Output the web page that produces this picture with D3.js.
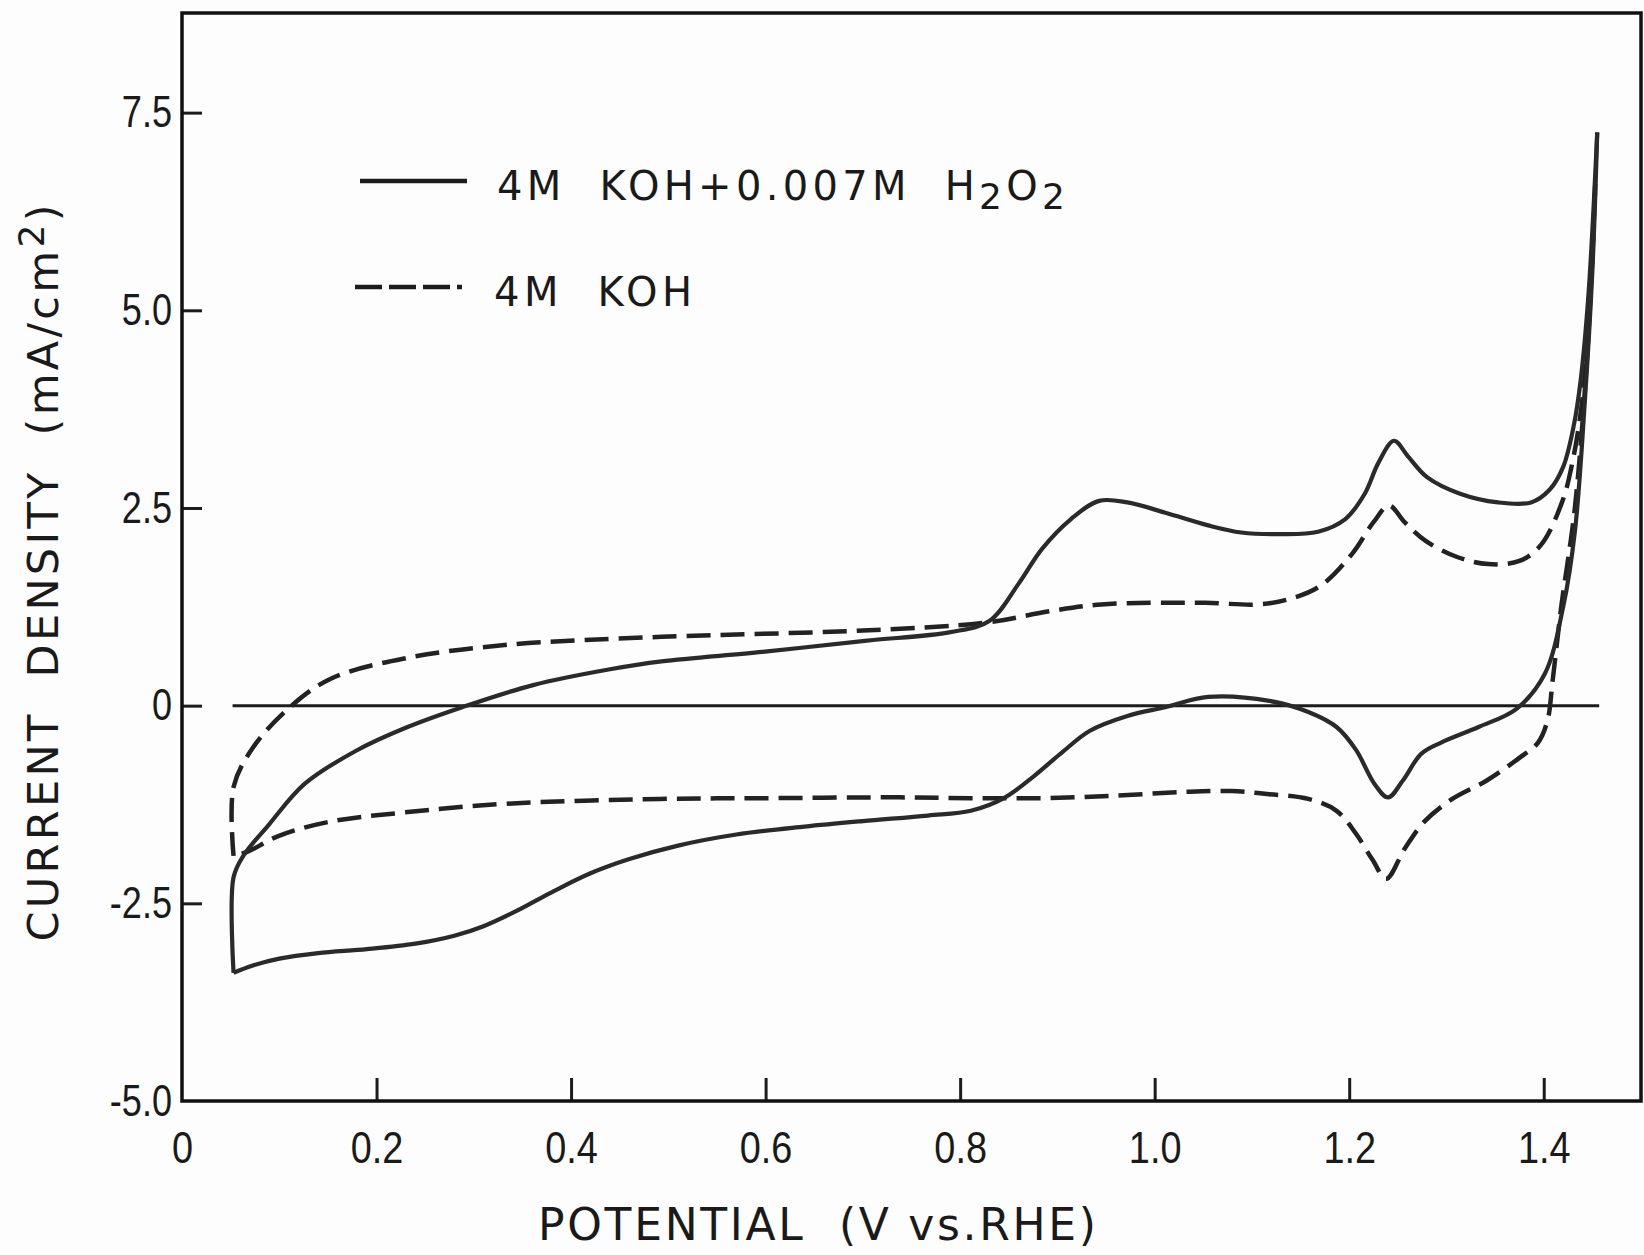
<!DOCTYPE html>
<html>
<head>
<meta charset="utf-8">
<script src="https://cdn.jsdelivr.net/npm/d3@7"></script>
<style>
  body { margin: 0; background: #fdfdfd; }
  svg { display: block; }
  text { fill: #1a1a1a; }
</style>
</head>
<body>
<div id="chart"></div>
<script>
// solid line: 4M KOH + 0.007M H2O2, [potential V, current mA/cm2]
var h2o2Anodic = [
  [0.053, -3.38], [0.053, -2.17], [0.063, -1.90], [0.089, -1.51], [0.126, -0.99],
  [0.179, -0.57], [0.230, -0.28], [0.288, -0.02], [0.361, 0.26], [0.440, 0.46],
  [0.493, 0.56], [0.597, 0.68], [0.702, 0.82], [0.790, 0.93], [0.830, 1.07],
  [0.860, 1.54], [0.884, 1.98], [0.914, 2.36], [0.943, 2.59], [0.972, 2.57],
  [1.011, 2.44], [1.055, 2.28], [1.089, 2.19], [1.129, 2.17], [1.168, 2.20],
  [1.196, 2.36], [1.216, 2.68], [1.230, 3.07], [1.246, 3.35], [1.260, 3.16],
  [1.280, 2.89], [1.314, 2.68], [1.353, 2.57], [1.387, 2.57], [1.406, 2.73],
  [1.420, 3.02], [1.431, 3.55], [1.438, 4.12], [1.446, 5.20], [1.455, 7.25]
];
var h2o2Cathodic = [
  [1.455, 7.25], [1.450, 5.50], [1.442, 3.80], [1.432, 2.20], [1.420, 1.25],
  [1.401, 0.40], [1.372, -0.04], [1.333, -0.27], [1.294, -0.47], [1.274, -0.61],
  [1.255, -0.95], [1.240, -1.16], [1.226, -0.99], [1.207, -0.56], [1.187, -0.27],
  [1.158, -0.08], [1.118, 0.06], [1.055, 0.11], [1.011, -0.02], [0.972, -0.13],
  [0.933, -0.32], [0.903, -0.61], [0.875, -0.90], [0.845, -1.17], [0.811, -1.33],
  [0.767, -1.39], [0.700, -1.46], [0.640, -1.53], [0.570, -1.63], [0.510, -1.77],
  [0.460, -1.94], [0.420, -2.12], [0.380, -2.36], [0.345, -2.59], [0.310, -2.79],
  [0.280, -2.91], [0.240, -3.01], [0.190, -3.08], [0.140, -3.13], [0.100, -3.20],
  [0.072, -3.29], [0.053, -3.38]
];

// dashed line: 4M KOH
var kohAnodic = [
  [0.053, -1.90], [0.053, -1.03], [0.073, -0.53], [0.110, -0.03], [0.153, 0.34],
  [0.230, 0.60], [0.335, 0.77], [0.493, 0.87], [0.700, 0.95], [0.827, 1.05],
  [0.890, 1.19], [0.945, 1.28], [1.052, 1.30], [1.106, 1.28], [1.139, 1.35],
  [1.171, 1.52], [1.203, 1.92], [1.225, 2.32], [1.241, 2.53], [1.257, 2.32],
  [1.279, 2.08], [1.311, 1.88], [1.343, 1.79], [1.375, 1.83], [1.397, 2.03],
  [1.419, 2.58], [1.430, 3.11], [1.440, 3.90], [1.448, 5.20], [1.453, 6.60]
];
var kohCathodic = [
  [1.453, 6.60], [1.445, 4.50], [1.432, 2.50], [1.418, 1.25], [1.409, 0.30],
  [1.404, -0.18], [1.394, -0.47], [1.375, -0.66], [1.341, -0.95], [1.306, -1.18],
  [1.277, -1.47], [1.257, -1.81], [1.238, -2.19], [1.224, -1.95], [1.207, -1.62],
  [1.187, -1.33], [1.158, -1.18], [1.118, -1.12], [1.079, -1.08], [1.031, -1.09],
  [0.958, -1.14], [0.884, -1.17], [0.811, -1.17], [0.738, -1.16], [0.600, -1.17],
  [0.491, -1.18], [0.334, -1.24], [0.229, -1.35], [0.151, -1.47], [0.099, -1.65],
  [0.067, -1.85], [0.053, -1.90]
];

// zero reference line runs over the scan range only
var zeroLine = [[0.052, 0], [1.457, 0]];

var xTicks = [0, 0.2, 0.4, 0.6, 0.8, 1.0, 1.2, 1.4];
var xTickLabels = ["0", "0.2", "0.4", "0.6", "0.8", "1.0", "1.2", "1.4"];
var yTicks = [7.5, 5.0, 2.5, 0, -2.5, -5.0];
var yTickLabels = ["7.5", "5.0", "2.5", "0", "-2.5", "-5.0"];

var xTitle = "POTENTIAL  (V vs.RHE)";
var legendNames = ["4M  KOH+0.007M  H", "4M  KOH"];

// note: "top" is taken by window.top, so plot edges get their own names
var W = 1644, H = 1255;
var plotLeft = 182, plotRight = 1641, plotTop = 13, plotBottom = 1101;

var svg = d3.select("#chart").append("svg")
  .attr("width", W)
  .attr("height", H);

svg.append("rect").attr("width", W).attr("height", H).attr("fill", "#fdfdfd");

var x = d3.scaleLinear().domain([0, 1.5]).range([plotLeft, plotRight]);
var y = d3.scaleLinear().domain([-5, 8.76]).range([plotBottom, plotTop]);

var ink = "#1c1c1c";
var tickFont = "'Liberation Sans', Arial, sans-serif";
var textFont = "'DejaVu Sans', 'Liberation Sans', sans-serif";

// the scan uses narrow digits, squeeze the tick labels a bit
function squeeze(sel, k) {
  sel.each(function() {
    var w = this.getComputedTextLength();
    d3.select(this).attr("textLength", w * k).attr("lengthAdjust", "spacingAndGlyphs");
  });
}

// x axis, ticks pointing into the plot
var xAxis = d3.axisBottom(x)
  .tickValues(xTicks)
  .tickSizeInner(-23)
  .tickSizeOuter(0)
  .tickPadding(31)
  .tickFormat(function(d, i) { return xTickLabels[i]; });

var gx = svg.append("g")
  .attr("transform", "translate(0," + plotBottom + ")")
  .call(xAxis);
gx.select(".domain").remove();
gx.selectAll(".tick line").attr("stroke", ink).attr("stroke-width", 3)
  .filter(function(d) { return d === 0; }).remove();
gx.selectAll(".tick text")
  .attr("fill", ink)
  .style("font-family", tickFont)
  .style("font-size", "44px")
  .call(squeeze, 0.86);

// y axis
var yAxis = d3.axisLeft(y)
  .tickValues(yTicks)
  .tickSizeInner(-20)
  .tickSizeOuter(0)
  .tickPadding(10)
  .tickFormat(function(d, i) { return yTickLabels[i]; });

var gy = svg.append("g")
  .attr("transform", "translate(" + plotLeft + ",0)")
  .call(yAxis);
gy.select(".domain").remove();
gy.selectAll(".tick line").attr("stroke", ink).attr("stroke-width", 3)
  .filter(function(d) { return d === -5; }).remove();
gy.selectAll(".tick text")
  .attr("fill", ink)
  .style("font-family", tickFont)
  .style("font-size", "44px")
  .call(squeeze, 0.82);

// frame
svg.append("rect")
  .attr("x", plotLeft).attr("y", plotTop)
  .attr("width", plotRight - plotLeft).attr("height", plotBottom - plotTop)
  .attr("fill", "none")
  .attr("stroke", "#111")
  .attr("stroke-width", 3.5);

var line = d3.line()
  .x(function(d) { return x(d[0]); })
  .y(function(d) { return y(d[1]); })
  .curve(d3.curveCatmullRom.alpha(0.5));

svg.append("path")
  .attr("d", d3.line().x(function(d) { return x(d[0]); }).y(function(d) { return y(d[1]); })(zeroLine))
  .attr("fill", "none")
  .attr("stroke", ink)
  .attr("stroke-width", 3);

[kohAnodic, kohCathodic].forEach(function(pts) {
  svg.append("path")
    .attr("d", line(pts))
    .attr("fill", "none")
    .attr("stroke", "#222")
    .attr("stroke-width", 4.5)
    .attr("stroke-dasharray", "24,10");
});

[h2o2Anodic, h2o2Cathodic].forEach(function(pts) {
  svg.append("path")
    .attr("d", line(pts))
    .attr("fill", "none")
    .attr("stroke", "#2a2a2a")
    .attr("stroke-width", 4.2)
    .attr("stroke-linejoin", "round");
});

// legend
svg.append("line")
  .attr("x1", 360).attr("x2", 467).attr("y1", 181).attr("y2", 181)
  .attr("stroke", ink).attr("stroke-width", 4.5);
svg.append("line")
  .attr("x1", 355).attr("x2", 462).attr("y1", 287).attr("y2", 287)
  .attr("stroke", ink).attr("stroke-width", 4.5)
  .attr("stroke-dasharray", "27,7");

var leg1 = svg.append("text")
  .attr("x", 497).attr("y", 200)
  .attr("textLength", 568).attr("lengthAdjust", "spacing")
  .style("white-space", "pre")
  .style("font-family", textFont)
  .style("font-size", "40px");
leg1.append("tspan").text(legendNames[0]);
leg1.append("tspan").attr("dy", 9).style("font-size", "36px").text("2");
leg1.append("tspan").attr("dy", -9).text("O");
leg1.append("tspan").attr("dy", 9).style("font-size", "36px").text("2");

svg.append("text")
  .attr("x", 494).attr("y", 306)
  .attr("textLength", 198).attr("lengthAdjust", "spacing")
  .style("white-space", "pre")
  .style("font-family", textFont)
  .style("font-size", "40px")
  .text(legendNames[1]);

// axis titles
svg.append("text")
  .attr("x", 538).attr("y", 1240)
  .attr("textLength", 558).attr("lengthAdjust", "spacing")
  .style("white-space", "pre")
  .style("font-family", textFont)
  .style("font-size", "44px")
  .text(xTitle);

var yt = svg.append("text")
  .attr("transform", "translate(58,573) rotate(-90)")
  .attr("text-anchor", "middle")
  .attr("textLength", 737).attr("lengthAdjust", "spacing")
  .style("white-space", "pre")
  .style("font-family", textFont)
  .style("font-size", "43px");
yt.append("tspan").text("CURRENT  DENSITY  (mA/cm");
yt.append("tspan").attr("dy", -14).style("font-size", "36px").text("2");
yt.append("tspan").attr("dy", 14).text(")");
</script>
</body>
</html>
